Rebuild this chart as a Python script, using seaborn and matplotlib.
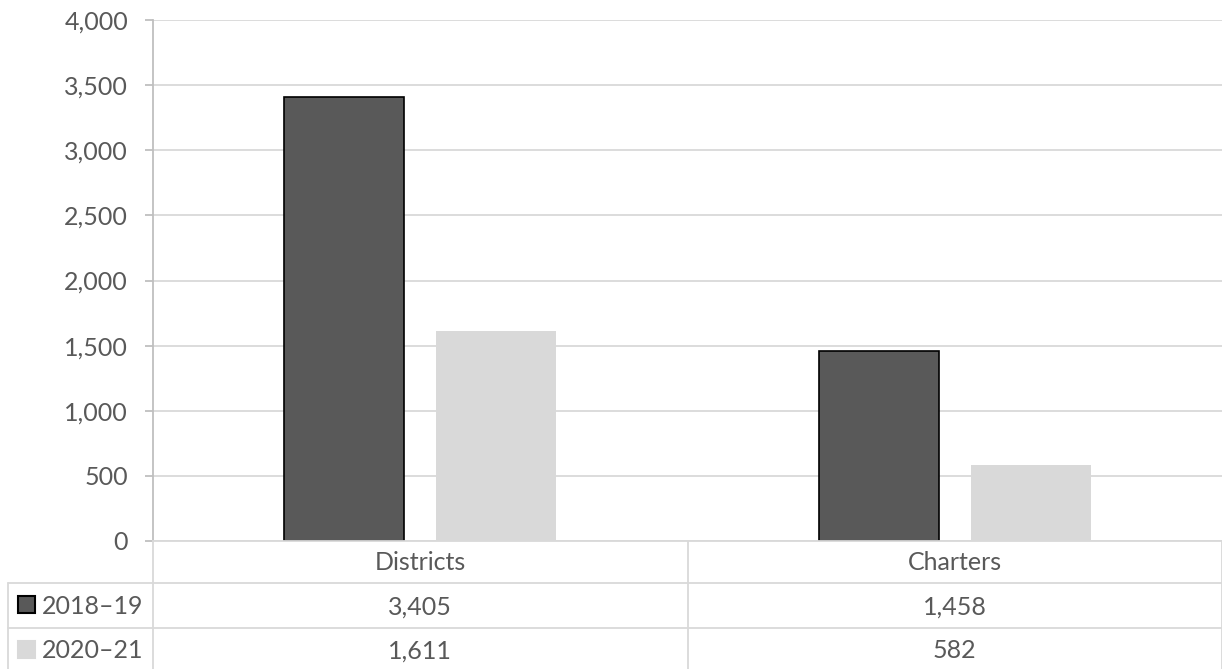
import pandas as pd
import matplotlib.pyplot as plt
import seaborn as sns
from matplotlib.patches import Rectangle
from matplotlib.lines import Line2D
from matplotlib.ticker import FuncFormatter

categories = ['Districts', 'Charters']
years = ['2018–19', '2020–21']
vals_2018 = [3405, 1458]
vals_2020 = [1611, 582]

df = pd.DataFrame({
    'category': categories * 2,
    'year': [years[0]] * 2 + [years[1]] * 2,
    'value': vals_2018 + vals_2020,
})

sns.set_theme(style='white')
plt.rcParams['font.family'] = ['Lato', 'DejaVu Sans']

text_color = '#595959'
line_color = '#d9d9d9'
bar_colors = ['#595959', '#d9d9d9']
fs = 18

W, H = 1222, 669
fig = plt.figure(figsize=(W / 100, H / 100), dpi=100)
ax = fig.add_axes([153 / W, 1 - 541 / H, 1 - 153 / W, (541 - 20) / H])

sns.barplot(data=df, x='category', y='value', hue='year', order=categories,
            hue_order=years, palette=bar_colors, saturation=1, width=0.569,
            gap=0.21, legend=False, ax=ax)

for bar in ax.containers[0]:
    bar.set_edgecolor('black')
    bar.set_linewidth(1.2)
for bar in ax.containers[1]:
    bar.set_linewidth(0)

ax.set_xlim(-0.5, 1.5)
ax.set_ylim(0, 4000)
ax.set_yticks(range(0, 4001, 500))
ax.yaxis.set_major_formatter(FuncFormatter(lambda v, p: f'{int(v):,}'))
ax.grid(axis='y', color=line_color, linewidth=1.3)
ax.set_axisbelow(True)
ax.set_xlabel('')
ax.set_ylabel('')
ax.set_xticks([])
for s in ['top', 'right']:
    ax.spines[s].set_visible(False)
ax.spines['bottom'].set_color(line_color)
ax.spines['bottom'].set_linewidth(1.3)
ax.spines['left'].set_color('#bfbfbf')
ax.spines['left'].set_linewidth(1.3)
ax.tick_params(axis='y', left=True, length=6, width=1.3, color='#bfbfbf',
               labelsize=fs, labelcolor=text_color, pad=12)

# data table under the plot
def fy(px):
    return 1 - px / H

def fx(px):
    return px / W

xt = ax.get_xaxis_transform()
row_lines = [583, 628]
for y in row_lines:
    fig.add_artist(Line2D([fx(8), 1], [fy(y), fy(y)], color=line_color, lw=1.3))
fig.add_artist(Line2D([fx(8), fx(8)], [fy(583), 0], color=line_color, lw=1.3))
fig.add_artist(Line2D([fx(153), fx(153)], [fy(541), 0], color=line_color, lw=1.3))
for b in [0.5, 1.5]:
    ax.add_line(Line2D([b, b], [0, -(669 - 541) / (541 - 20)], transform=xt,
                       color=line_color, lw=1.3, clip_on=False))

cat_y = -(563 - 541) / (541 - 20)
row_y = [-(607 - 541) / (541 - 20), -(651 - 541) / (541 - 20)]
for i, c in enumerate(categories):
    ax.text(i, cat_y, c, transform=xt, ha='center', va='center',
            fontsize=fs, color=text_color)
for r, vals in enumerate([vals_2018, vals_2020]):
    for i, v in enumerate(vals):
        ax.text(i, row_y[r], f'{v:,}', transform=xt, ha='center', va='center',
                fontsize=fs, color=text_color)

sw_y = [605, 650]
for r, yr in enumerate(years):
    ec = 'black' if r == 0 else bar_colors[r]
    fig.add_artist(Rectangle((fx(18), fy(sw_y[r] + 8)), fx(17), 17 / H,
                             facecolor=bar_colors[r], edgecolor=ec, lw=1.5))
    fig.text(fx(42), fy(sw_y[r] + 1), yr, ha='left', va='center',
             fontsize=fs, color=text_color)

fig.savefig('out.png', dpi=100)
